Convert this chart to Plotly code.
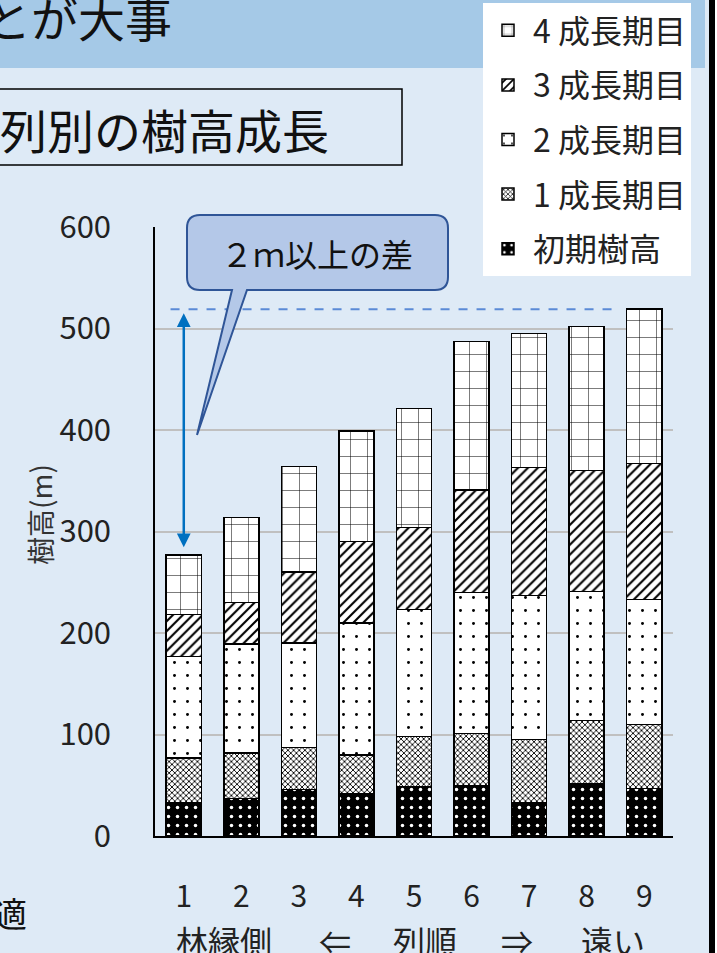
import plotly.graph_objects as go

# ---- data ----
rows = [1, 2, 3, 4, 5, 6, 7, 8, 9]
row_labels = ["1", "2", "3", "4", "5", "6", "7", "8", "9"]
initial_height = [33, 37, 46, 42, 49, 50, 33, 51, 47]
growth_1 = [44, 45, 41, 38, 49, 51, 62, 63, 63]
growth_2 = [100, 107, 103, 130, 125, 139, 142, 127, 123]
growth_3 = [41, 41, 70, 80, 81, 101, 126, 119, 134]
growth_4 = [59, 84, 104, 109, 117, 146, 132, 142, 152]
series_names = ["初期樹高", "1 成長期目", "2 成長期目", "3 成長期目", "4 成長期目"]
y_ticks = [0, 100, 200, 300, 400, 500, 600]

totals = [a + b + c + d + e for a, b, c, d, e in
          zip(initial_height, growth_1, growth_2, growth_3, growth_4)]

W, H = 717, 953
L, R, T, B = 155, 44, 227, 117
FONT = "Noto Sans CJK JP"


def px(x):
    return (x - L) / (W - L - R)


def py(y):
    return (H - B - y) / (H - T - B)


patterns = [
    dict(shape=".", bgcolor="black", fgcolor="white", size=9, solidity=0.12, fillmode="replace"),
    dict(shape="x", bgcolor="white", fgcolor="black", size=4, solidity=0.4, fillmode="replace"),
    dict(shape=".", bgcolor="white", fgcolor="black", size=13, solidity=0.04, fillmode="replace"),
    dict(shape="/", bgcolor="white", fgcolor="black", size=7, solidity=0.3, fillmode="replace"),
    dict(shape="+", bgcolor="white", fgcolor="black", size=17, solidity=0.06, fillmode="replace"),
]
base_colors = ["black", "white", "white", "white", "white"]
series_values = [initial_height, growth_1, growth_2, growth_3, growth_4]
legend_ranks = [5, 4, 3, 2, 1]

fig = go.Figure()
for name, vals, pat, col, rank in zip(series_names, series_values, patterns, base_colors, legend_ranks):
    fig.add_trace(go.Bar(
        x=rows, y=vals, name=name, legendgroup=name, legendrank=rank,
        marker=dict(color=col, pattern=pat, line=dict(color="black", width=1.5)),
    ))

shapes = [
    # top band
    dict(type="rect", xref="paper", yref="paper", x0=px(-5), x1=px(705), y0=py(68), y1=py(-5),
         fillcolor="#A5C9E7", line=dict(width=0), layer="below"),
    # right black strip
    dict(type="rect", xref="paper", yref="paper", x0=px(709), x1=px(715), y0=py(960), y1=py(-5),
         fillcolor="black", line=dict(width=0), layer="above"),
    dict(type="rect", xref="paper", yref="paper", x0=px(715), x1=px(720), y0=py(960), y1=py(-5),
         fillcolor="white", line=dict(width=0), layer="above"),
    # subtitle box
    dict(type="rect", xref="paper", yref="paper", x0=px(-2), x1=px(402), y0=py(165), y1=py(89),
         fillcolor="rgba(0,0,0,0)", line=dict(color="black", width=1.5), layer="above"),
    # dashed reference line at tallest bar
    dict(type="line", xref="x", yref="y", x0=0.77, x1=8.47, y0=max(totals), y1=max(totals),
         line=dict(color="#5B8AD6", width=2, dash="dash"), layer="above"),
]

# callout (rounded box with tail)
x0, x1, y0, y1, r = 187, 448, 215, 290, 13
path = (
    f"M {px(x0 + r)},{py(y0)} L {px(x1 - r)},{py(y0)} "
    f"Q {px(x1)},{py(y0)} {px(x1)},{py(y0 + r)} "
    f"L {px(x1)},{py(y1 - r)} Q {px(x1)},{py(y1)} {px(x1 - r)},{py(y1)} "
    f"L {px(247)},{py(y1)} L {px(197)},{py(435)} L {px(232)},{py(y1)} "
    f"L {px(x0 + r)},{py(y1)} Q {px(x0)},{py(y1)} {px(x0)},{py(y1 - r)} "
    f"L {px(x0)},{py(y0 + r)} Q {px(x0)},{py(y0)} {px(x0 + r)},{py(y0)} Z"
)
shapes.append(dict(type="path", xref="paper", yref="paper", path=path,
                   fillcolor="#B4C8E8", line=dict(color="#2F5597", width=2), layer="above"))

annotations = [
    dict(text="とが大事", xref="paper", yref="paper", x=px(174), y=py(16), xanchor="right",
         yanchor="middle", showarrow=False, font=dict(family=FONT, size=47, color="#111")),
    dict(text="列別の樹高成長", xref="paper", yref="paper", x=px(331), y=py(128), xanchor="right",
         yanchor="middle", showarrow=False, font=dict(family=FONT, size=47, color="#111")),
    dict(text="２ｍ以上の差", xref="paper", yref="paper", x=px(317), y=py(253), xanchor="center",
         yanchor="middle", showarrow=False, font=dict(family=FONT, size=32, color="#111")),
    dict(text="樹高(m)", xref="paper", yref="paper", x=px(40), y=py(515), textangle=-90,
         xanchor="center", yanchor="middle", showarrow=False,
         font=dict(family=FONT, size=28, color="#333")),
    dict(text="適", xref="paper", yref="paper", x=px(10), y=py(912), xanchor="center",
         yanchor="middle", showarrow=False, font=dict(family=FONT, size=34, color="#111")),
    # double-headed arrow spanning the difference
    dict(x=1, y=max(totals), ax=1, ay=totals[0], xref="x", yref="y", axref="x", ayref="y",
         text="", showarrow=True, arrowhead=2, startarrowhead=2, arrowside="end+start",
         arrowsize=1.1, startarrowsize=1.1, arrowwidth=2.5, arrowcolor="#0070C0",
         standoff=4, startstandoff=6),
]
for txt, cx in [("林縁側", 224), ("⇐", 335), ("列順", 425), ("⇒", 517), ("遠い", 613)]:
    annotations.append(dict(text=txt, xref="paper", yref="paper", x=px(cx), y=py(940),
                            xanchor="center", yanchor="middle", showarrow=False,
                            font=dict(family=FONT, size=32, color="#222")))

fig.update_layout(
    width=W, height=H,
    margin=dict(l=L, r=R, t=T, b=B, pad=0, autoexpand=False),
    paper_bgcolor="#DEEAF6", plot_bgcolor="rgba(0,0,0,0)",
    barmode="stack", bargap=0.39,
    font=dict(family=FONT, color="#222"),
    showlegend=True,
    legend=dict(x=px(483), y=py(3), xanchor="left", yanchor="top",
                bgcolor="white", borderwidth=0, traceorder="grouped",
                tracegroupgap=10, itemwidth=40,
                font=dict(family=FONT, size=32, color="#222"),
                itemclick=False),
    xaxis=dict(range=[0.5, 9.5], tickmode="array", tickvals=rows, ticktext=row_labels,
               showgrid=False, zeroline=False, showline=True, linecolor="black", linewidth=1.5,
               ticks="", ticklabelstandoff=33, tickfont=dict(family=FONT, size=30, color="#222"),
               fixedrange=True),
    yaxis=dict(range=[0, 600], tickmode="array", tickvals=y_ticks, showgrid=True,
               gridcolor="#C0C0C0", gridwidth=1.5, zeroline=False, showline=True,
               linecolor="black", linewidth=1.5, ticks="", ticklabelstandoff=36,
               tickfont=dict(family=FONT, size=31, color="#222"), fixedrange=True),
    shapes=shapes,
    annotations=annotations,
)

fig.write_html(
    "out.html",
    config={"displayModeBar": False},
    post_script="document.body.style.margin='0';document.body.style.overflow='hidden';",
)
